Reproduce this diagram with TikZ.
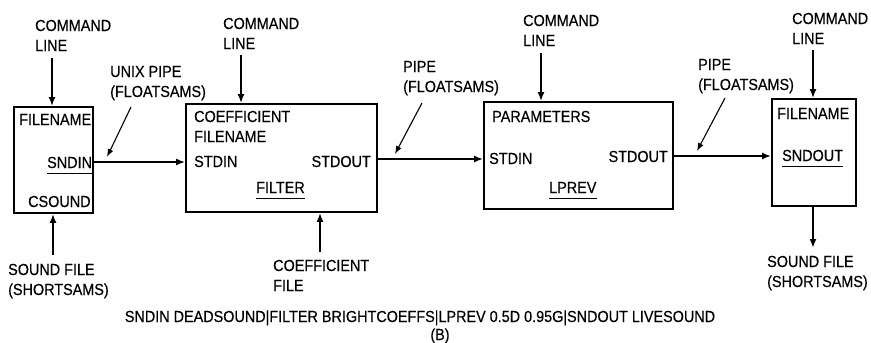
\documentclass[tikz,border=0pt]{standalone}
\usepackage{fontspec}
\usetikzlibrary{arrows.meta,positioning}
\newfontfamily\lblfont[FakeStretch=0.9,FakeBold=0.4]{Liberation Sans}
\tikzset{
  prog/.style={draw, rectangle, line width=1.8pt, inner sep=0pt},
  txt/.style={font=\lblfont\fontsize{16}{20}\selectfont, inner sep=0pt, align=left, anchor=base west},
  arr/.style={-{Latex[length=9pt,width=7pt]}, line width=1.8pt},
  ptr/.style={-{Latex[length=8pt,width=6pt]}, line width=1.1pt},
  uline/.style={line width=1pt}
}

\begin{document}
\begin{tikzpicture}[x=1pt, y=-1pt]
\useasboundingbox (0,0) rectangle (871,343);
% the four programs
\node[prog, minimum width=79pt, minimum height=106pt] (csound) at (53.5,160) {};
\node[prog, minimum width=191pt, minimum height=108pt] (filter) at (281.5,158) {};
\node[prog, minimum width=189pt, minimum height=107pt] (lprev) at (578.5,155.5) {};
\node[prog, minimum width=84pt, minimum height=107pt] (sndout) at (814,152.5) {};

% texts inside the boxes (base = last line)
\node[txt] (fn1) at (19,125) {FILENAME};
\node[txt] (sndin) at (47,168) {SNDIN};
\node[txt] (cs) at (28,207) {CSOUND};
\node[txt] (coef) at (194,142) {COEFFICIENT\\FILENAME};
\node[txt] (in2) at (194,167) {STDIN};
\node[txt, anchor=base east] (out2) at (371,167) {STDOUT};
\node[txt] (flt) at (256,193) {FILTER};
\node[txt] (par) at (492,122) {PARAMETERS};
\node[txt] (in3) at (489,164) {STDIN};
\node[txt, anchor=base east] (out3) at (668,162) {STDOUT};
\node[txt] (lp) at (549,193) {LPREV};
\node[txt] (fn4) at (777,119) {FILENAME};
\node[txt] (so) at (782,161) {SNDOUT};
\foreach \n in {sndin,flt,lp,so}
  \draw[uline] ([yshift=-5pt]\n.base west) -- ([yshift=-5pt]\n.base east);

% labels outside
\node[txt] (cmd1) at (35,51) {COMMAND\\LINE};
\node[txt] (cmd2) at (223,49) {COMMAND\\LINE};
\node[txt] (cmd3) at (523,46) {COMMAND\\LINE};
\node[txt] (cmd4) at (792,44) {COMMAND\\LINE};
\node[txt] (sfin) at (8,295) {SOUND FILE\\(SHORTSAMS)};
\node[txt] (cfile) at (273,291) {COEFFICIENT\\FILE};
\node[txt] (sfout) at (767,287) {SOUND FILE\\(SHORTSAMS)};
\node[txt] (pipe1) at (110,97) {UNIX PIPE\\(FLOATSAMS)};
\node[txt] (pipe2) at (403,92) {PIPE\\(FLOATSAMS)};
\node[txt] (pipe3) at (698,90) {PIPE\\(FLOATSAMS)};
\node[txt, anchor=base] (cmdline) at (420,322) {SNDIN DEADSOUND|FILTER BRIGHTCOEFFS|LPREV 0.5D 0.95G|SNDOUT LIVESOUND};
\node[txt, anchor=base] (capt) at (440,340) {(B)};

% free ends of the arrows
\coordinate (c1) at (52,58);
\coordinate (c2) at (241,55);
\coordinate (c3) at (541,53);
\coordinate (c4) at (813,50);
\coordinate (s1) at (53,255);
\coordinate (s2) at (320,252);
\coordinate (s4) at (813,248);
\coordinate (p1a) at (131,107);
\coordinate (p1b) at (107,157);
\coordinate (p2a) at (422,103);
\coordinate (p2b) at (395,154);
\coordinate (p3a) at (725,98);
\coordinate (p3b) at (697,151);

\draw[arr] (c1) -- (c1 |- csound.north);
\draw[arr] (c2) -- (c2 |- filter.north);
\draw[arr] (c3) -- (c3 |- lprev.north);
\draw[arr] (c4) -- (c4 |- sndout.north);
\draw[arr] (s1) -- (s1 |- csound.south);
\draw[arr] (s2) -- (s2 |- filter.south);
\draw[arr] (s4 |- sndout.south) -- (s4);

% pipes
\draw[arr] (csound.east |- 0,162) -- (filter.west |- 0,162);
\draw[arr] (filter.east |- 0,159) -- (lprev.west |- 0,159);
\draw[arr] (lprev.east |- 0,156) -- (sndout.west |- 0,156);
\foreach \a/\b in {p1a/p1b,p2a/p2b,p3a/p3b} \draw[ptr] (\a) -- (\b);
\end{tikzpicture}
\end{document}
